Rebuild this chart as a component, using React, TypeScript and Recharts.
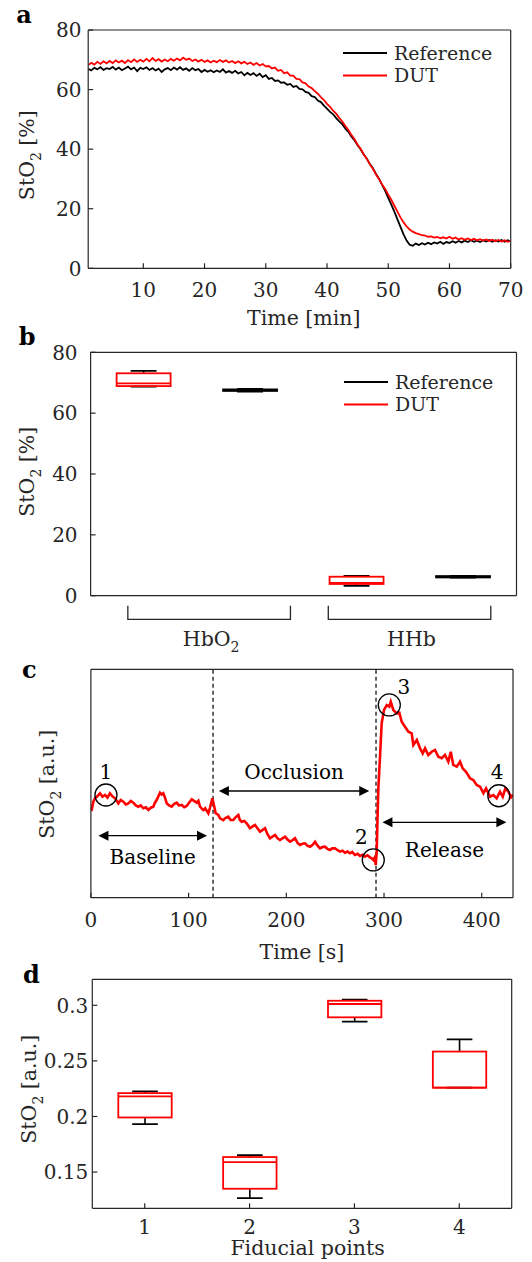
import React from 'react';
import {
  ComposedChart,
  LineChart,
  Line,
  Bar,
  XAxis,
  YAxis,
  ReferenceLine,
  ReferenceDot,
  Legend,
  Label,
} from 'recharts';

// ---------------- styling constants ----------------
const FONT = '"DejaVu Serif", "Liberation Serif", serif';
const INK = '#262626';
const RED = '#ff0000';
const BLACK = '#000000';
const TICK_FS = 20;
const TITLE_FS = 20.5;
const LEGEND_FS = 19;
const AXIS_LINE = { stroke: INK, strokeWidth: 1.2 };
const TICK_LINE = { stroke: INK, strokeWidth: 1.2 };
const SERIES_COLOR: Record<string, string> = { Reference: BLACK, DUT: RED };

// ---------------- panel a data ----------------
const A_START_MIN = 1;
const A_STEP_MIN = 0.5;
const A_REFERENCE = [
  67.0, 66.4, 67.3, 66.8, 67.5, 66.6, 67.2, 66.9, 67.6, 66.7,
  67.4, 66.5, 67.1, 67.7, 66.8, 67.4, 66.2, 67.3, 66.9, 67.5,
  66.6, 67.2, 66.4, 67.0, 65.9, 66.8, 67.2, 66.5, 67.4, 66.7,
  67.5, 66.6, 67.1, 66.3, 67.2, 66.5, 66.9, 65.9, 66.6, 66.0,
  66.5, 65.8, 66.4, 65.9, 66.8, 65.7, 66.2, 65.6, 66.3, 65.4,
  65.9, 64.8, 65.6, 64.9, 65.5, 64.6, 65.3, 64.2, 64.8, 63.6,
  63.9, 62.9, 63.1, 62.3, 62.4, 61.6, 61.9, 60.9, 61.2, 60.2,
  60.1, 59.2, 58.9, 57.8, 57.5, 56.3, 55.8, 54.6, 53.6, 52.5,
  51.7, 50.4, 49.3, 48.4, 46.9, 45.8, 44.2, 42.9, 41.3, 39.9,
  38.2, 36.8, 35.0, 33.6, 31.7, 30.0, 28.0, 26.0, 23.6, 21.4,
  19.0, 16.4, 13.9, 11.4, 9.3, 7.9, 7.6, 8.3, 7.8, 8.4,
  8.0, 8.6, 8.1, 8.7, 8.3, 8.9, 8.2, 8.8, 8.5, 9.1,
  8.6, 9.2, 8.7, 9.3, 8.8, 9.4, 8.9, 9.3, 8.8, 9.4,
  9.0, 9.5, 8.9, 9.4, 9.0, 9.5, 8.9, 9.4, 9.0,
];
const A_DUT = [
  68.2, 69.0, 68.4, 69.3, 68.6, 69.5, 68.8, 69.6, 68.9, 69.8,
  69.1, 69.7, 68.9, 69.9, 69.2, 70.1, 69.3, 70.0, 69.4, 70.3,
  69.5, 70.6, 69.6, 70.2, 69.4, 70.1, 69.5, 70.3, 69.7, 70.4,
  69.8, 70.7, 70.0, 70.4, 69.6, 70.1, 69.4, 70.0, 69.3, 69.8,
  69.1, 69.7, 69.2, 69.9, 69.3, 69.8, 69.1, 69.6, 68.9, 69.5,
  68.8, 69.3, 68.6, 69.1, 68.3, 68.9, 68.1, 68.6, 67.8, 67.9,
  67.1, 67.4, 66.3, 66.6, 65.5, 65.8, 64.7, 64.7, 63.6, 63.5,
  62.4, 62.1, 61.0, 60.5, 59.5, 58.6, 57.5, 56.5, 55.2, 54.2,
  52.9, 51.9, 50.5, 49.3, 47.8, 46.4, 44.7, 43.3, 41.5, 40.1,
  38.2, 36.8, 34.9, 33.4, 31.5, 30.0, 28.1, 26.6, 24.7, 23.0,
  21.0, 19.0, 17.1, 15.4, 14.1, 13.0, 12.3, 11.8, 11.5, 11.1,
  11.0, 10.6, 10.7, 10.3, 10.5, 10.1, 10.4, 10.0, 10.6, 9.9,
  10.3, 9.7, 10.1, 9.6, 10.0, 9.5, 9.9, 9.4, 9.8, 9.3,
  9.7, 9.2, 9.6, 9.1, 9.5, 9.0, 9.4, 8.9, 9.2,
];
const A_X_TICKS = [10, 20, 30, 40, 50, 60, 70];
const A_Y_TICKS = [0, 20, 40, 60, 80];
const A_LEGEND = ['Reference', 'DUT'];

// ---------------- panel b data ----------------
const B_CATEGORIES = ['HbO2 DUT', 'HbO2 Reference', 'HHb DUT', 'HHb Reference'];
const B_DEVICE = ['DUT', 'Reference', 'DUT', 'Reference'];
const B_GROUP = [0, 0, 1, 1];
const B_GROUP_MAIN = ['HbO', 'HHb'];
const B_GROUP_SUB = ['2', ''];
const B_WHISKER_LOW = [68.7, 67.1, 3.2, 5.95];
const B_Q1 = [68.9, 67.3, 3.85, 6.0];
const B_MEDIAN = [69.8, 67.6, 4.2, 6.2];
const B_Q3 = [73.1, 67.8, 6.24, 6.45];
const B_WHISKER_HIGH = [73.9, 68.0, 6.5, 6.5];
const B_Y_TICKS = [0, 20, 40, 60, 80];
const B_LEGEND = ['Reference', 'DUT'];

// ---------------- panel c data ----------------
const C_TIME = [
  0, 0.8, 2.5, 4.2, 6.5, 9.3, 11.8, 14.4, 17, 19.5,
  22, 24.7, 28.1, 30.5, 33.2, 35.7, 38.3, 40.8, 43.4, 46,
  48.5, 51, 53.6, 56.2, 58.8, 61.3, 63.9, 65.5, 67.3, 70.7,
  72.5, 74.1, 76, 77.6, 80, 82.7, 85, 87.8, 90, 92.9,
  95.5, 98, 100.5, 103.2, 105.5, 108.3, 110, 111.7, 113.5, 115,
  117, 120.2, 122, 124.3, 126, 127.7, 130.4, 132.1, 135.5, 137.3,
  140.6, 143, 145.8, 148, 150.9, 152.5, 154.3, 157, 159.4, 161,
  162.8, 165.5, 168, 170.5, 173.1, 175.5, 178.2, 180.5, 183.3, 186,
  188.4, 191, 193.5, 196, 198.7, 201, 203.8, 206.5, 208.9, 211.5,
  214, 216.5, 219.1, 221.5, 224.3, 227, 229.4, 232, 234.5, 237,
  239.6, 242, 244.7, 247, 249.8, 252.5, 255, 257.5, 260.1, 262.5,
  265.2, 267.5, 270.3, 273, 275.4, 278, 280.5, 283, 285.7, 287.5,
  289, 290.5, 291.5, 292.5, 293.3, 294.2, 295.9, 297.6, 300, 302.8,
  305.4, 306.9, 309.5, 312.9, 315.7, 318.1, 321.5, 324.9, 328.3, 330,
  333.5, 336.9, 339.6, 342, 345.3, 348.8, 352.2, 355.6, 359, 362.4,
  365.8, 368.3, 370.9, 374.4, 377.8, 380.5, 383.9, 388, 391.4, 394.8,
  398.3, 401.7, 404.4, 408.5, 411.9, 415.3, 418.7, 421.5, 424.2, 427.3,
  430, 432,
];
const C_STO2 = [
  0.196, 0.196, 0.205, 0.2088, 0.211, 0.2143, 0.2105, 0.2124, 0.2095, 0.2143,
  0.211, 0.2088, 0.2033, 0.207, 0.2051, 0.202, 0.2033, 0.206, 0.204, 0.201,
  0.1996, 0.201, 0.1979, 0.199, 0.196, 0.1985, 0.1996, 0.204, 0.2069, 0.2149,
  0.213, 0.2143, 0.209, 0.2033, 0.201, 0.1996, 0.2025, 0.204, 0.201, 0.2015,
  0.199, 0.2004, 0.204, 0.2077, 0.206, 0.204, 0.206, 0.1996, 0.1975, 0.196,
  0.1979, 0.1924, 0.199, 0.2088, 0.201, 0.1924, 0.1905, 0.1869, 0.185, 0.187,
  0.1887, 0.185, 0.185, 0.188, 0.1905, 0.185, 0.1832, 0.184, 0.1814, 0.179,
  0.176, 0.178, 0.1796, 0.176, 0.1722, 0.174, 0.176, 0.17, 0.165, 0.167,
  0.1686, 0.165, 0.1632, 0.165, 0.1668, 0.164, 0.1613, 0.163, 0.165, 0.16,
  0.1577, 0.159, 0.1595, 0.157, 0.1558, 0.158, 0.1613, 0.157, 0.1541, 0.1555,
  0.1558, 0.1535, 0.1522, 0.154, 0.1541, 0.152, 0.1504, 0.1515, 0.1493, 0.1505,
  0.1486, 0.15, 0.1467, 0.148, 0.1456, 0.147, 0.1449, 0.1465, 0.1442, 0.143,
  0.1413, 0.144, 0.1358, 0.15, 0.185, 0.22, 0.2543, 0.2909, 0.3055, 0.3109,
  0.3091, 0.3145, 0.3055, 0.3018, 0.3025, 0.2926, 0.2872, 0.2817, 0.2799, 0.2671,
  0.2726, 0.2635, 0.2581, 0.2635, 0.2562, 0.2598, 0.2617, 0.2543, 0.2526, 0.2562,
  0.2489, 0.2598, 0.2453, 0.2434, 0.2489, 0.2416, 0.2379, 0.2307, 0.2288, 0.2234,
  0.2215, 0.2143, 0.2197, 0.2106, 0.2124, 0.2088, 0.216, 0.2106, 0.2197, 0.216,
  0.21, 0.213,
];
const C_X_TICKS = [0, 100, 200, 300, 400];
const C_PHASE_BOUNDARIES = [125, 291.8];
const C_PHASE_NAMES = ['Baseline', 'Occlusion', 'Release'];
const C_PHASE_FROM = [7.7, 131, 298.4];
const C_PHASE_TO = [118.8, 284.9, 425.2];
const C_PHASE_LEVEL = [0.1679, 0.2168, 0.1825];
const C_FIDUCIAL_LABELS = ['1', '2', '3', '4'];
const C_FIDUCIAL_T = [15.4, 289, 305.4, 417.5];
const C_FIDUCIAL_V = [0.2124, 0.1413, 0.311, 0.2116];

// ---------------- panel d data ----------------
const D_POINTS = ['1', '2', '3', '4'];
const D_WHISKER_LOW = [0.1932, 0.1266, 0.2853, 0.2259];
const D_Q1 = [0.1991, 0.135, 0.2892, 0.2259];
const D_MEDIAN = [0.218, 0.159, 0.3012, 0.2259];
const D_Q3 = [0.221, 0.1635, 0.3041, 0.2584];
const D_WHISKER_HIGH = [0.2225, 0.1653, 0.305, 0.2694];
const D_Y_TICKS = [0.15, 0.2, 0.25, 0.3];

// ---------------- rows built from arrays ----------------
const aRows = A_REFERENCE.map((v, i) => ({ t: A_START_MIN + i * A_STEP_MIN, reference: v, dut: A_DUT[i] }));
const bRows = B_CATEGORIES.map((name, i) => ({
  name,
  device: B_DEVICE[i],
  group: B_GROUP[i],
  whiskerLow: B_WHISKER_LOW[i],
  q1: B_Q1[i],
  median: B_MEDIAN[i],
  q3: B_Q3[i],
  whiskerHigh: B_WHISKER_HIGH[i],
}));
const cRows = C_TIME.map((t, i) => ({ t, v: C_STO2[i] }));
const dRows = D_POINTS.map((name, i) => ({
  name,
  device: 'DUT',
  whiskerLow: D_WHISKER_LOW[i],
  q1: D_Q1[i],
  median: D_MEDIAN[i],
  q3: D_Q3[i],
  whiskerHigh: D_WHISKER_HIGH[i],
}));

// ---------------- renderers ----------------
const bottomTick = (dy: number) => (p: any) => (
  <text x={p.x} y={p.y + dy} textAnchor="middle" fontFamily={FONT} fontSize={TICK_FS} fill={INK}>
    {p.payload.value}
  </text>
);
const leftTick = (gap: number) => (p: any) => (
  <text x={p.x - 5 - gap} y={p.y} dy={7.2} textAnchor="end" fontFamily={FONT} fontSize={TICK_FS} fill={INK}>
    {String(p.payload.value)}
  </text>
);
const xTitle = (text: string, baseline: number, dx: number) => (props: any) => {
  const vb = props.viewBox || {};
  return (
    <text x={vb.x + vb.width / 2 + dx} y={vb.y + baseline} textAnchor="middle" fontFamily={FONT} fontSize={TITLE_FS} fill={INK}>
      {text}
    </text>
  );
};
const yTitle = (main: string, sub: string, rest: string, cx: number, dCenter: number) => (props: any) => {
  const vb = props.viewBox || {};
  const cy = vb.y + vb.height / 2 + dCenter;
  return (
    <text x={cx} y={cy} transform={`rotate(-90, ${cx}, ${cy})`} textAnchor="middle" fontFamily={FONT} fontSize={TITLE_FS} fill={INK}>
      {main}
      <tspan fontSize={14} dy={7}>{sub}</tspan>
      <tspan dy={-7}>{rest}</tspan>
    </text>
  );
};
const LEGEND_PAD = 14;
const legendContent = (items: string[], rowGap: number) => () => (
  <svg width={185} height={rowGap + 2 * LEGEND_PAD + 4} style={{ display: 'block', overflow: 'visible' }}>
    {items.map((name, i) => {
      const y = LEGEND_PAD + i * rowGap;
      return (
        <g key={name}>
          <line x1={0} x2={44} y1={y} y2={y} stroke={SERIES_COLOR[name]} strokeWidth={2} />
          <text x={51} y={y} dy={6.9} fontFamily={FONT} fontSize={LEGEND_FS} fill={INK}>
            {name}
          </text>
        </g>
      );
    })}
  </svg>
);
const boxShape = (props: any) => {
  const { x, y, width, height, payload } = props;
  if (payload == null || !Number.isFinite(x) || !Number.isFinite(y)) return <g />;
  const top = Math.min(y, y + height);
  const h = Math.abs(height);
  const hi = payload.whiskerHigh;
  const lo = payload.whiskerLow;
  const py = (v: number) => top + ((hi - v) / (hi - lo)) * h;
  const cx = x + width / 2;
  const cap = width * 0.24;
  const c = SERIES_COLOR[payload.device];
  return (
    <g>
      <line x1={cx} x2={cx} y1={py(hi)} y2={py(payload.q3)} stroke={BLACK} strokeWidth={1.6} />
      <line x1={cx} x2={cx} y1={py(payload.q1)} y2={py(lo)} stroke={BLACK} strokeWidth={1.6} />
      <line x1={cx - cap} x2={cx + cap} y1={py(hi)} y2={py(hi)} stroke={BLACK} strokeWidth={1.8} />
      <line x1={cx - cap} x2={cx + cap} y1={py(lo)} y2={py(lo)} stroke={BLACK} strokeWidth={1.8} />
      <rect x={x} y={py(payload.q3)} width={width} height={Math.max(0.01, py(payload.q1) - py(payload.q3))} fill="none" stroke={c} strokeWidth={1.8} />
      <line x1={x} x2={x + width} y1={py(payload.median)} y2={py(payload.median)} stroke={c} strokeWidth={1.8} />
    </g>
  );
};
// bracket extents (px relative to first box centre of each group)
const B_BRACKET_SPAN = [
  [-16, 146.6],
  [-28.5, 134],
];
const bracketTick = (p: any) => {
  const idx = p.index ?? (p.payload && p.payload.index) ?? 0;
  const g = B_GROUP[idx];
  if (idx > 0 && B_GROUP[idx - 1] === g) return <g />;
  const [l, r] = B_BRACKET_SPAN[g];
  const x0 = p.x + l;
  const x1 = p.x + r;
  const y = p.y;
  return (
    <g>
      <path d={`M${x0},${y + 10} V${y + 23.6} H${x1} V${y + 10}`} fill="none" stroke={INK} strokeWidth={1.3} />
      <text x={(x0 + x1) / 2 + 2} y={y + 50} textAnchor="middle" fontFamily={FONT} fontSize={TITLE_FS} fill={INK}>
        {B_GROUP_MAIN[g]}
        {B_GROUP_SUB[g] ? (
          <tspan fontSize={14} dy={6}>
            {B_GROUP_SUB[g]}
          </tspan>
        ) : null}
      </text>
    </g>
  );
};
const C_PHASE_TEXT_DY = [28.2, -12.1, 34.9];
const phaseArrow = (i: number) => (p: any) => {
  const { x1, y1, x2, y2 } = p;
  const L = 10;
  const W = 5;
  const a = Math.min(x1, x2);
  const b = Math.max(x1, x2);
  const y = y1;
  return (
    <g>
      <line x1={a + L - 1} y1={y} x2={b - L + 1} y2={y2} stroke={BLACK} strokeWidth={1.3} />
      <polygon points={`${a},${y} ${a + L},${y - W} ${a + L},${y + W}`} fill={BLACK} />
      <polygon points={`${b},${y} ${b - L},${y - W} ${b - L},${y + W}`} fill={BLACK} />
      <text x={(a + b) / 2} y={y + C_PHASE_TEXT_DY[i]} textAnchor="middle" fontFamily={FONT} fontSize={20} fill={BLACK}>
        {C_PHASE_NAMES[i]}
      </text>
    </g>
  );
};
const C_FIDUCIAL_LABEL_OFFSET = [
  [0, -23],
  [-12, -23],
  [14.6, -18],
  [-1.7, -24],
];
const fiducialShape = (i: number) => (p: any) => {
  const { cx, cy } = p;
  if (!Number.isFinite(cx) || !Number.isFinite(cy)) return <g />;
  const [ox, oy] = C_FIDUCIAL_LABEL_OFFSET[i];
  return (
    <g>
      <circle cx={cx} cy={cy} r={11} fill="none" stroke={BLACK} strokeWidth={1.3} />
      <text x={cx + ox} y={cy + oy + 7.2} textAnchor="middle" fontFamily={FONT} fontSize={20} fill={BLACK}>
        {C_FIDUCIAL_LABELS[i]}
      </text>
    </g>
  );
};

// ---------------- panels ----------------
function PanelA() {
  return (
    <ComposedChart width={532} height={340} data={aRows} margin={{ top: 29, right: 20.3, bottom: 0, left: 0 }}>
      <XAxis xAxisId="b" dataKey="t" type="number" domain={[1, 70]} ticks={A_X_TICKS} allowDataOverflow interval={0} height={71.7}
        tickSize={-5} tickMargin={0} axisLine={AXIS_LINE} tickLine={TICK_LINE} tick={bottomTick(33.2)}>
        <Label content={xTitle('Time [min]', 56.7, 4.3)} />
      </XAxis>
      <XAxis xAxisId="t" orientation="top" dataKey="t" type="number" domain={[1, 70]} ticks={A_X_TICKS} allowDataOverflow interval={0}
        height={1} tickSize={-5} tick={false} axisLine={AXIS_LINE} tickLine={TICK_LINE} />
      <YAxis yAxisId="l" type="number" domain={[0, 80]} ticks={A_Y_TICKS} allowDataOverflow interval={0} width={88.2}
        tickSize={-5} tickMargin={0} axisLine={AXIS_LINE} tickLine={TICK_LINE} tick={leftTick(6.8)}>
        <Label content={yTitle('StO', '2', ' [%]', 34, 6)} />
      </YAxis>
      <YAxis yAxisId="r" orientation="right" type="number" domain={[0, 80]} ticks={A_Y_TICKS} allowDataOverflow interval={0} width={1}
        tickSize={-5} tick={false} axisLine={AXIS_LINE} tickLine={TICK_LINE} />
      <Line xAxisId="b" yAxisId="l" type="linear" dataKey="reference" name="Reference" stroke={BLACK} strokeWidth={1.8} dot={false} isAnimationActive={false} />
      <Line xAxisId="b" yAxisId="l" type="linear" dataKey="dut" name="DUT" stroke={RED} strokeWidth={1.8} dot={false} isAnimationActive={false} />
      <Legend layout="vertical" align="center" verticalAlign="middle" content={legendContent(A_LEGEND, 22.5)}
        wrapperStyle={{ left: 342.7, top: 52.5 - LEGEND_PAD, width: 185 }} />
    </ComposedChart>
  );
}

function PanelB() {
  return (
    <ComposedChart width={532} height={340} data={bRows} margin={{ top: 31.3, right: 14.5, bottom: 0, left: 0 }}>
      <XAxis xAxisId="b" dataKey="name" type="category" interval={0} height={64.3} tickSize={0} tickMargin={0}
        axisLine={AXIS_LINE} tickLine={false} tick={bracketTick} />
      <XAxis xAxisId="t" orientation="top" dataKey="name" type="category" interval={0} height={1} tick={false} tickLine={false} axisLine={AXIS_LINE} />
      <YAxis yAxisId="l" type="number" domain={[0, 80]} ticks={B_Y_TICKS} allowDataOverflow interval={0} width={90.6}
        tickSize={-5} tickMargin={0} axisLine={AXIS_LINE} tickLine={TICK_LINE} tick={leftTick(13)}>
        <Label content={yTitle('StO', '2', ' [%]', 34, -2.3)} />
      </YAxis>
      <YAxis yAxisId="r" orientation="right" type="number" domain={[0, 80]} ticks={B_Y_TICKS} allowDataOverflow interval={0} width={1}
        tickSize={-5} tick={false} axisLine={AXIS_LINE} tickLine={TICK_LINE} />
      <Bar xAxisId="b" yAxisId="l" dataKey={(r: any) => [r.whiskerLow, r.whiskerHigh]} barSize={54} shape={boxShape} isAnimationActive={false} />
      <Legend layout="vertical" align="center" verticalAlign="middle" content={legendContent(B_LEGEND, 22.5)}
        wrapperStyle={{ left: 344.4, top: 62.2 - LEGEND_PAD, width: 185 }} />
    </ComposedChart>
  );
}

function PanelC() {
  return (
    <LineChart width={532} height={320} data={cRows} margin={{ top: 18.3, right: 18, bottom: 0, left: 0 }}>
      <XAxis xAxisId="b" dataKey="t" type="number" domain={[0, 432]} ticks={C_X_TICKS} allowDataOverflow interval={0} height={72.3}
        tickSize={-5} tickMargin={0} axisLine={AXIS_LINE} tickLine={TICK_LINE} tick={bottomTick(33.8)}>
        <Label content={xTitle('Time [s]', 61.3, 0)} />
      </XAxis>
      <XAxis xAxisId="t" orientation="top" dataKey="t" type="number" domain={[0, 432]} ticks={C_X_TICKS} allowDataOverflow interval={0}
        height={1} tickSize={-5} tick={false} axisLine={AXIS_LINE} tickLine={TICK_LINE} />
      <YAxis yAxisId="l" type="number" domain={[0.1, 0.35]} allowDataOverflow width={90.9} tick={false} tickLine={false} axisLine={AXIS_LINE}>
        <Label content={yTitle('StO', '2', ' [a.u.]', 54.3, 0.7)} />
      </YAxis>
      <YAxis yAxisId="r" orientation="right" type="number" domain={[0.1, 0.35]} allowDataOverflow width={1} tick={false} tickLine={false} axisLine={AXIS_LINE} />
      {C_PHASE_BOUNDARIES.map((b) => (
        <ReferenceLine key={`b${b}`} xAxisId="b" yAxisId="l" x={b} stroke={BLACK} strokeWidth={1.2} strokeDasharray="4 3" />
      ))}
      <Line xAxisId="b" yAxisId="l" type="linear" dataKey="v" stroke={RED} strokeWidth={2.6} dot={false} isAnimationActive={false} />
      {C_PHASE_NAMES.map((n, i) => (
        <ReferenceLine key={n} xAxisId="b" yAxisId="l" ifOverflow="visible"
          segment={[{ x: C_PHASE_FROM[i], y: C_PHASE_LEVEL[i] }, { x: C_PHASE_TO[i], y: C_PHASE_LEVEL[i] }]}
          shape={phaseArrow(i)} />
      ))}
      {C_FIDUCIAL_LABELS.map((n, i) => (
        <ReferenceDot key={`f${n}`} xAxisId="b" yAxisId="l" x={C_FIDUCIAL_T[i]} y={C_FIDUCIAL_V[i]} r={11} ifOverflow="visible"
          shape={fiducialShape(i)} />
      ))}
    </LineChart>
  );
}

function PanelD() {
  return (
    <ComposedChart width={532} height={332} data={dRows} margin={{ top: 48.3, right: 19.3, bottom: 0, left: 0 }}>
      <XAxis xAxisId="b" dataKey="name" type="category" interval={0} height={53.7} tickSize={-5} tickMargin={0}
        axisLine={AXIS_LINE} tickLine={TICK_LINE} tick={bottomTick(30.2)}>
        <Label content={xTitle('Fiducial points', 46.7, 5.6)} />
      </XAxis>
      <XAxis xAxisId="t" orientation="top" dataKey="name" type="category" interval={0} height={1} tickSize={-5} tick={false}
        axisLine={AXIS_LINE} tickLine={TICK_LINE} />
      <YAxis yAxisId="l" type="number" domain={[0.1174, 0.3234]} ticks={D_Y_TICKS} allowDataOverflow interval={0} width={92.3}
        tickSize={-5} tickMargin={0} axisLine={AXIS_LINE} tickLine={TICK_LINE} tick={leftTick(4)}>
        <Label content={yTitle('StO', '2', ' [a.u.]', 35.6, -4.6)} />
      </YAxis>
      <YAxis yAxisId="r" orientation="right" type="number" domain={[0.1174, 0.3234]} ticks={D_Y_TICKS} allowDataOverflow interval={0} width={1}
        tickSize={-5} tick={false} axisLine={AXIS_LINE} tickLine={TICK_LINE} />
      <Bar xAxisId="b" yAxisId="l" dataKey={(r: any) => [r.whiskerLow, r.whiskerHigh]} barSize={53.4} shape={boxShape} isAnimationActive={false} />
    </ComposedChart>
  );
}

const PANEL_LETTERS = [
  { t: 'a', x: 16.3, y: 23.3 },
  { t: 'b', x: 18.7, y: 345 },
  { t: 'c', x: 22, y: 678.3 },
  { t: 'd', x: 23, y: 983.3 },
];

export default function App() {
  return (
    <div style={{ position: 'absolute', left: 0, top: 0, width: 532, height: 1262, background: '#fff', overflow: 'hidden' }}>
      <div style={{ position: 'absolute', left: 0, top: 0 }}>
        <PanelA />
      </div>
      <div style={{ position: 'absolute', left: 0, top: 320 }}>
        <PanelB />
      </div>
      <div style={{ position: 'absolute', left: 0, top: 650 }}>
        <PanelC />
      </div>
      <div style={{ position: 'absolute', left: 0, top: 930 }}>
        <PanelD />
      </div>
      <svg width={532} height={1262} style={{ position: 'absolute', left: 0, top: 0, pointerEvents: 'none' }}>
        {PANEL_LETTERS.map((p) => (
          <text key={p.t} x={p.x} y={p.y} fontFamily={FONT} fontWeight="bold" fontSize={24} fill={BLACK}>
            {p.t}
          </text>
        ))}
      </svg>
    </div>
  );
}
